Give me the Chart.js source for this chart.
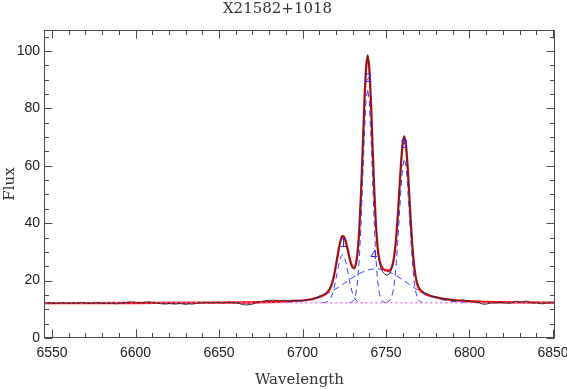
<!DOCTYPE html>
<html><head><meta charset="utf-8">
<script src="https://cdn.jsdelivr.net/npm/chart.js@4.4.1/dist/chart.umd.min.js"></script>
<style>html,body{margin:0;padding:0;background:#fff;}canvas{display:block;}</style>
</head><body>
<canvas id="c" width="567" height="389"></canvas>
<script>
const chartTitle = 'X21582+1018';
const xAxisTitle = 'Wavelength';
const yAxisTitle = 'Flux';
const xTicks = [6550, 6600, 6650, 6700, 6750, 6800, 6850];
const yTicks = [0, 20, 40, 60, 80, 100];

// observed spectrum (black)
const obsWl = [6546,6548,6550,6552,6554,6556,6558,6560,6562,6564,6566,6568,6570,6572,6574,6576,6578,6580,6582,6584,
  6586,6588,6590,6592,6594,6596,6598,6600,6602,6604,6606,6608,6610,6612,6614,6616,6618,6620,6622,6624,6626,6628,6630,
  6632,6634,6636,6638,6640,6642,6644,6646,6648,6650,6652,6654,6656,6658,6660,6662,6664,6666,6668,6670,6672,6674,6676,
  6678,6680,6682,6684,6686,6688,6690,6692,6694,6696,6698,
  6700,6701,6702,6703,6704,6705,6706,6707,6708,6709,6710,6711,6712,6713,6714,6715,6716,6717,6718,6719,
  6720,6721,6722,6723,6724,6725,6726,6727,6728,6729,6730,6731,6732,6733,6734,6735,6736,6737,6738,6739,
  6740,6741,6742,6743,6744,6745,6746,6747,6748,6749,6750,6751,6752,6753,6754,6755,6756,6757,6758,6759,
  6760,6761,6762,6763,6764,6765,6766,6767,6768,6769,6770,6771,6772,6773,6774,6775,6776,6777,6778,6779,
  6780,6781,6782,6783,6784,6785,6786,6787,6788,6789,6790,
  6792,6794,6796,6798,6800,6802,6804,6806,6808,6810,6812,6814,6816,6818,6820,6822,6824,6826,6828,6830,
  6832,6834,6836,6838,6840,6842,6844,6846,6848,6850];
const obsFlux = [12.1,12.3,12.2,12.0,12.1,12.3,12.2,12.0,12.2,12.1,12.3,12.4,12.2,12.0,12.1,12.3,12.2,12.1,12.0,12.2,
  12.1,11.9,12.1,12.2,12.3,12.5,12.6,12.4,12.2,12.3,12.5,12.6,12.4,12.2,12.0,11.9,11.8,12.0,11.9,11.8,12.0,11.9,11.7,
  11.9,11.8,12.0,12.3,12.2,12.4,12.3,12.2,12.4,12.3,12.2,12.4,12.5,12.3,12.2,12.0,11.7,11.5,11.6,11.8,12.2,12.5,12.8,
  13.0,13.1,13.2,13.1,13.0,13.2,13.1,12.9,13.0,13.1,13.0,
  13.1,13.0,13.3,13.2,13.5,13.4,13.6,13.9,14.0,14.2,14.6,14.7,15.0,15.4,15.6,16.3,17.0,18.1,19.6,22.0,
  25.0,28.6,32.0,34.6,35.9,35.3,33.4,30.7,28.0,25.9,24.4,24.0,25.6,29.8,37.9,50.0,65.5,81.5,94.0,98.7,
  94.2,81.8,65.7,50.5,38.8,31.0,26.6,24.2,23.0,22.4,22.0,21.9,22.3,23.3,25.2,28.6,34.2,42.2,51.8,61.3,
  68.2,70.5,67.3,59.4,49.0,38.7,30.4,24.6,20.9,18.8,17.5,16.8,16.2,15.8,15.6,15.2,15.0,14.7,14.5,14.4,
  14.3,14.0,14.0,13.8,13.7,13.6,13.4,13.5,13.4,13.3,13.2,
  13.0,13.1,13.3,13.0,12.8,12.6,12.4,12.2,11.8,11.8,12.1,12.3,12.2,12.4,12.3,12.2,12.1,12.4,12.8,12.5,
  12.6,12.9,12.5,12.2,12.3,12.0,11.9,12.2,12.3,12.2];

// total fit (red)
const fitWl = [6545,6600,6650,6680,6690,6695,
  6700,6701,6702,6703,6704,6705,6706,6707,6708,6709,6710,6711,6712,6713,6714,6715,6716,6717,6718,6719,
  6720,6721,6722,6723,6724,6725,6726,6727,6728,6729,6730,6731,6732,6733,6734,6735,6736,6737,6738,6739,
  6740,6741,6742,6743,6744,6745,6746,6747,6748,6749,6750,6751,6752,6753,6754,6755,6756,6757,6758,6759,
  6760,6761,6762,6763,6764,6765,6766,6767,6768,6769,6770,6771,6772,6773,6774,6775,6776,6777,6778,6779,
  6780,6781,6782,6783,6784,6785,6786,6787,6788,6789,6790,6795,6800,6810,6830,6852];
const fitFlux = [12.15,12.2,12.3,12.55,12.75,12.95,
  13.05,13.12,13.2,13.27,13.35,13.45,13.57,13.73,13.9,14.08,14.28,14.5,14.75,15.05,15.41,15.93,16.71,17.9,19.68,22.14,
  25.21,28.64,31.87,34.32,35.47,35.11,33.44,30.97,28.34,26.11,24.67,24.43,25.93,30.03,37.75,49.7,65.06,81.06,93.46,98.25,
  93.81,81.76,66.08,51.0,39.27,31.61,27.32,25.21,24.24,23.79,23.55,23.43,23.55,24.14,25.71,28.88,34.27,42.03,51.47,60.83,
  67.74,70.05,66.95,59.25,49.12,38.91,30.41,24.31,20.45,18.23,17.02,16.32,15.88,15.52,15.24,14.98,14.78,14.6,14.45,14.32,
  14.2,14.05,13.92,13.8,13.7,13.6,13.5,13.42,13.35,13.28,13.22,13.0,12.8,12.55,12.4,12.3];

// gaussian components + continuum (blue dashed)
const comp1Wl = [6712,6713,6714,6715,6716,6717,6718,6719,6720,6721,6722,6723,6724,6725,6726,6727,6728,6729,6730,6731,6732,6733,6734,6735,6736];
const comp1Flux = [12.32,12.37,12.47,12.71,13.19,14.07,15.52,17.64,20.36,23.42,26.28,28.35,29.1,28.35,26.28,23.42,20.36,17.64,15.52,14.07,13.19,12.71,12.47,12.37,12.32];
const comp2Wl = [6728,6729,6730,6731,6732,6733,6734,6735,6736,6737,6738,6739,6740,6741,6742,6743,6744,6745,6746,6747,6748,6749,6750];
const comp2Flux = [12.33,12.43,12.73,13.57,15.59,19.83,27.47,39.22,54.35,70.12,82.3,86.9,82.3,70.12,54.35,39.22,27.47,19.83,15.59,13.57,12.73,12.43,12.33];
const comp3Wl = [6750,6751,6752,6753,6754,6755,6756,6757,6758,6759,6760,6761,6762,6763,6764,6765,6766,6767,6768,6769,6770,6771,6772];
const comp3Flux = [12.36,12.49,12.86,13.73,15.6,19.09,24.82,32.94,42.75,52.49,59.79,62.5,59.79,52.49,42.75,32.94,24.82,19.09,15.6,13.73,12.86,12.49,12.36];
const comp4Wl = [6690,6692,6694,6696,6698,6700,6702,6704,6706,6708,6710,6712,6714,6716,6718,6720,6722,6724,6726,6728,
  6730,6732,6734,6736,6738,6740,6742,6744,6746,6748,6750,6752,6754,6756,6758,6760,6762,6764,6766,6768,
  6770,6772,6774,6776,6778,6780,6782,6784,6786,6788,6790,6792,6794,6796,6798,6800];
const comp4Flux = [12.43,12.48,12.55,12.64,12.75,12.89,13.08,13.3,13.57,13.9,14.28,14.73,15.24,15.82,16.46,17.15,17.89,18.67,19.46,20.25,
  21.02,21.75,22.41,22.99,23.46,23.81,24.03,24.1,24.03,23.81,23.46,22.99,22.41,21.75,21.02,20.25,19.46,18.67,17.89,17.15,
  16.46,15.82,15.24,14.73,14.28,13.9,13.57,13.3,13.08,12.89,12.75,12.64,12.55,12.48,12.43,12.39];

// continuum (magenta dotted)
const contWl = [6546, 6850];
const contFlux = [12.3, 12.3];

// component labels
const compNames = ['1', '2', '3', '4'];
const compLabelWl = [6724.4, 6739.4, 6760.8, 6742.8];
const compLabelFlux = [33, 90.5, 67.5, 28.6];

const pts = (xs, ys) => xs.map((v, i) => ({x: v, y: ys[i]}));

const framePlugin = {
  id: 'frameTicks',
  afterDatasetsDraw(chart) {
    const {ctx, chartArea: a, scales: {x, y}} = chart;
    ctx.save();
    ctx.strokeStyle = '#4a4a4a';
    ctx.lineWidth = 1;
    const L = Math.round(a.left) + 0.5, R = Math.round(a.right) - 0.5;
    const T = Math.round(a.top) + 0.5, B = Math.round(a.bottom) - 0.5;
    ctx.strokeRect(L, T, R - L, B - T);
    ctx.beginPath();
    for (let v = xTicks[0]; v <= xTicks[xTicks.length - 1]; v += 10) {
      const len = xTicks.includes(v) ? 8 : 4.5;
      const px = Math.round(x.getPixelForValue(v)) + 0.5;
      ctx.moveTo(px, B); ctx.lineTo(px, B - len);
      ctx.moveTo(px, T); ctx.lineTo(px, T + len);
    }
    for (let v = 0; v <= 105; v += 5) {
      const len = yTicks.includes(v) ? 8 : 4.5;
      const py = Math.round(y.getPixelForValue(v)) + 0.5;
      ctx.moveTo(L, py); ctx.lineTo(L + len, py);
      ctx.moveTo(R, py); ctx.lineTo(R - len, py);
    }
    ctx.stroke();
    ctx.fillStyle = '#2a2aff';
    ctx.font = '13px "Liberation Sans"';
    ctx.textAlign = 'center';
    ctx.textBaseline = 'middle';
    compNames.forEach((t, i) => {
      ctx.fillText(t, x.getPixelForValue(compLabelWl[i]), y.getPixelForValue(compLabelFlux[i]));
    });
    ctx.restore();
  }
};

const blue = '#3b3bff';
const dashedComp = (data) => ({data, borderColor: blue, borderWidth: 1, borderDash: [6, 4], pointRadius: 0, fill: false, tension: 0});

new Chart(document.getElementById('c'), {
  type: 'line',
  data: {
    datasets: [
      {data: pts(obsWl, obsFlux), borderColor: '#333', borderWidth: 1, pointRadius: 0, fill: false, tension: 0},
      {data: pts(contWl, contFlux), borderColor: '#f07cf0', borderWidth: 1.5, borderDash: [2, 3], pointRadius: 0, fill: false},
      dashedComp(pts(comp1Wl, comp1Flux)),
      dashedComp(pts(comp2Wl, comp2Flux)),
      dashedComp(pts(comp3Wl, comp3Flux)),
      dashedComp(pts(comp4Wl, comp4Flux)),
      {data: pts(fitWl, fitFlux), borderColor: '#ff0000', borderWidth: 2.3, pointRadius: 0, fill: false, cubicInterpolationMode: 'monotone'}
    ]
  },
  options: {
    responsive: false,
    animation: false,
    devicePixelRatio: 1,
    layout: {padding: {left: 0, right: 12, top: 0, bottom: 0}},
    plugins: {
      legend: {display: false},
      tooltip: {enabled: false},
      title: {display: true, text: chartTitle, color: '#333', font: {family: '"DejaVu Serif"', size: 15, weight: 'normal', lineHeight: 1.2}, padding: {top: 0, bottom: 12}}
    },
    scales: {
      x: {
        type: 'linear', min: 6545.2, max: 6851.2,
        afterBuildTicks: s => { s.ticks = xTicks.map(v => ({value: v})); },
        afterFit: s => { s.height = 51; s.paddingLeft = 0; s.paddingRight = 0; },
        grid: {display: false, drawTicks: false},
        border: {display: false},
        ticks: {color: '#222', font: {family: '"Liberation Sans"', size: 14}, padding: 7, maxRotation: 0, autoSkip: false, callback: v => String(v)},
        title: {display: true, text: xAxisTitle, color: '#333', font: {family: '"DejaVu Serif"', size: 15, lineHeight: 1.2}, padding: {top: 0, bottom: 0}}
      },
      y: {
        type: 'linear', min: 0, max: 107.3,
        afterBuildTicks: s => { s.ticks = yTicks.map(v => ({value: v})); },
        afterFit: s => { s.width = 44; },
        grid: {display: false, drawTicks: false},
        border: {display: false},
        ticks: {color: '#222', font: {family: '"Liberation Sans"', size: 14}, padding: 4, autoSkip: false, callback: v => String(v)},
        title: {display: true, text: yAxisTitle, color: '#333', font: {family: '"DejaVu Serif"', size: 15, lineHeight: 1.2}, padding: {top: 1, bottom: 0}}
      }
    }
  },
  plugins: [framePlugin]
});
</script>
</body></html>
